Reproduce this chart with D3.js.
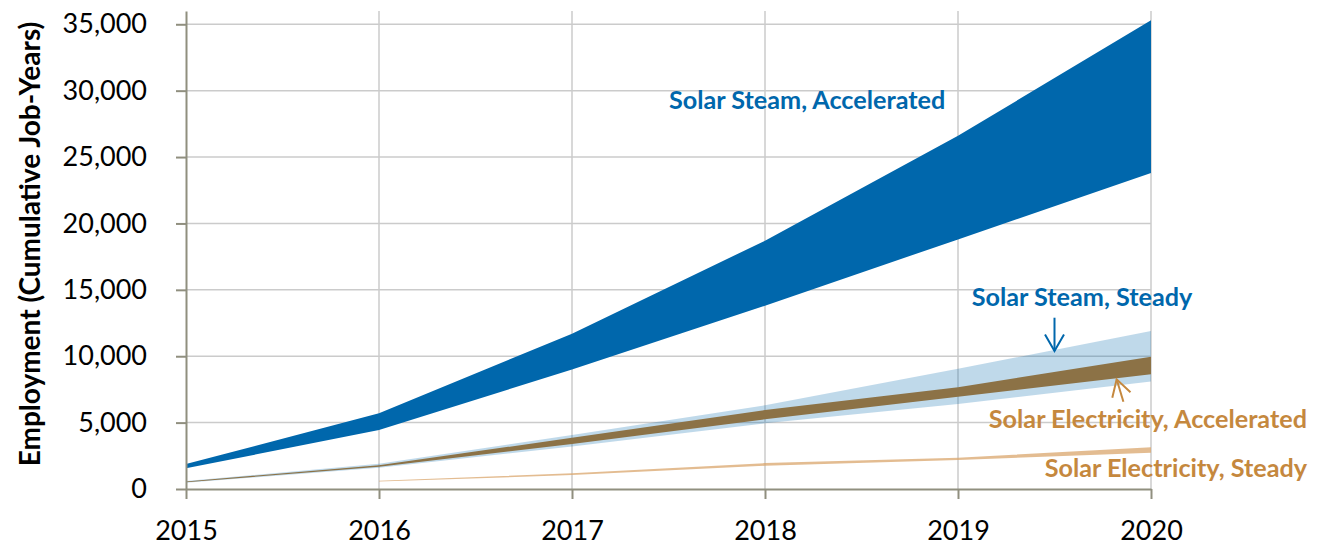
<!DOCTYPE html>
<html lang="en">
<head>
  <meta charset="UTF-8">
  <title>Solar employment</title>
  <script src="https://cdn.jsdelivr.net/npm/d3@7/dist/d3.min.js"></script>
  <style>
    body { margin: 0; background: #fff; }
    text { font-family: Lato, "Open Sans", sans-serif; }
  </style>
</head>
<body>
  <script>
    const years = [2015, 2016, 2017, 2018, 2019, 2020]
    const yTicks = [0, 5000, 10000, 15000, 20000, 25000, 30000, 35000]

    // bands: low / high edge per year (cumulative job-years)
    const steamAccelLow = [1560, 4440, 9000, 13800, 18800, 23800]
    const steamAccelHigh = [1880, 5700, 11700, 18700, 26600, 35300]
    const steamSteadyLow = [470, 1600, 3200, 4950, 6400, 8100]
    const steamSteadyHigh = [600, 1900, 4070, 6300, 9050, 11900]
    const elecAccelLow = [500, 1680, 3390, 5250, 6950, 8640]
    const elecAccelHigh = [570, 1780, 3860, 5950, 7660, 9960]
    const elecSteadyLow = [null, 560, 1050, 1750, 2180, 2730]
    const elecSteadyHigh = [null, 620, 1180, 1950, 2360, 3140]

    const width = 1321, height = 550

    const x = d3.scaleLinear().domain([2015, 2020]).range([186, 1151])
    const y = d3.scaleLinear().domain([0, 36000]).range([489, 11])

    const svg = d3.select('body')
      .append('svg')
      .attr('width', width)
      .attr('height', height)

    // grid lines
    svg.append('g')
      .selectAll('line')
      .data(yTicks.slice(1))
      .join('line')
      .attr('x1', x(2015)).attr('x2', x(2020))
      .attr('y1', d => y(d)).attr('y2', d => y(d))
      .attr('stroke', '#cbcbcb')
      .attr('stroke-width', 1.5)

    svg.append('g')
      .selectAll('line')
      .data(years.slice(1))
      .join('line')
      .attr('x1', d => x(d)).attr('x2', d => x(d))
      .attr('y1', y(36000)).attr('y2', y(0))
      .attr('stroke', '#cbcbcb')
      .attr('stroke-width', 1.5)

    // band helper
    function band(low, high, fill, opacity) {
      const rows = years.map((yr, i) => ({ yr, lo: low[i], hi: high[i] }))
      const area = d3.area()
        .defined(d => d.lo != null)
        .x(d => x(d.yr))
        .y0(d => y(d.lo))
        .y1(d => y(d.hi))
      svg.append('path')
        .datum(rows)
        .attr('d', area)
        .attr('fill', fill)
        .attr('fill-opacity', opacity)
    }

    band(elecSteadyLow, elecSteadyHigh, '#d9a66c', 0.75)
    band(steamSteadyLow, steamSteadyHigh, '#0066aa', 0.25)
    band(elecAccelLow, elecAccelHigh, '#8c7246', 1)
    band(steamAccelLow, steamAccelHigh, '#0067ac', 1)

    // axes
    const yAxis = d3.axisLeft(y)
      .tickValues(yTicks)
      .tickSize(10)
      .tickSizeOuter(0)
      .tickPadding(29)
      .tickFormat(d3.format(','))

    const xAxis = d3.axisBottom(x)
      .tickValues(years)
      .tickSize(10)
      .tickSizeOuter(0)
      .tickPadding(22)
      .tickFormat(d3.format('d'))

    svg.append('g')
      .attr('transform', `translate(0,${y(0)})`)
      .call(xAxis)
    svg.append('g')
      .attr('transform', `translate(${x(2015)},0)`)
      .call(yAxis)

    svg.selectAll('.domain, .tick line')
      .attr('stroke', '#908f7f')
      .attr('stroke-width', 2)
    svg.selectAll('.tick text')
      .attr('fill', '#000')
      .style('font-size', '27px')
      .style('font-family', 'Lato, sans-serif')

    // y title
    svg.append('text')
      .attr('transform', 'translate(40,244) rotate(-90)')
      .attr('text-anchor', 'middle')
      .attr('font-weight', 'bold')
      .attr('font-size', 28)
      .attr('fill', '#000')
      .text('Employment (Cumulative Job-Years)')

    // annotations
    const labels = [
      { text: 'Solar Steam, Accelerated', px: 669, py: 109, anchor: 'start', color: '#0067ac' },
      { text: 'Solar Steam, Steady', px: 1082, py: 306, anchor: 'middle', color: '#0067ac' },
      { text: 'Solar Electricity, Accelerated', px: 1307, py: 428, anchor: 'end', color: '#c5883e' },
      { text: 'Solar Electricity, Steady', px: 1307, py: 477, anchor: 'end', color: '#c5883e' }
    ]
    svg.append('g')
      .selectAll('text')
      .data(labels)
      .join('text')
      .attr('x', d => d.px)
      .attr('y', d => d.py)
      .attr('text-anchor', d => d.anchor)
      .attr('font-weight', 'bold')
      .attr('font-size', 25.2)
      .attr('fill', d => d.color)
      .text(d => d.text)

    // arrows, tail -> tip in data space
    const arrows = [
      { from: [2019.5, 12900], to: [2019.5, 10400], color: '#0067ac' },
      { from: [2019.857, 6570], to: [2019.822, 8260], color: '#c5883e' }
    ]
    arrows.forEach(a => {
      const x0 = x(a.from[0]), y0 = y(a.from[1])
      const x1 = x(a.to[0]), y1 = y(a.to[1])
      const ang = Math.atan2(y0 - y1, x0 - x1)
      const len = 19, spread = Math.PI / 6
      const g = svg.append('g')
        .attr('stroke', a.color)
        .attr('stroke-width', 2)
        .attr('fill', 'none')
      g.append('line').attr('x1', x0).attr('y1', y0).attr('x2', x1).attr('y2', y1)
      g.append('path')
        .attr('d', `M${x1 + len * Math.cos(ang - spread)},${y1 + len * Math.sin(ang - spread)}L${x1},${y1}L${x1 + len * Math.cos(ang + spread)},${y1 + len * Math.sin(ang + spread)}`)
    })
  </script>
</body>
</html>
